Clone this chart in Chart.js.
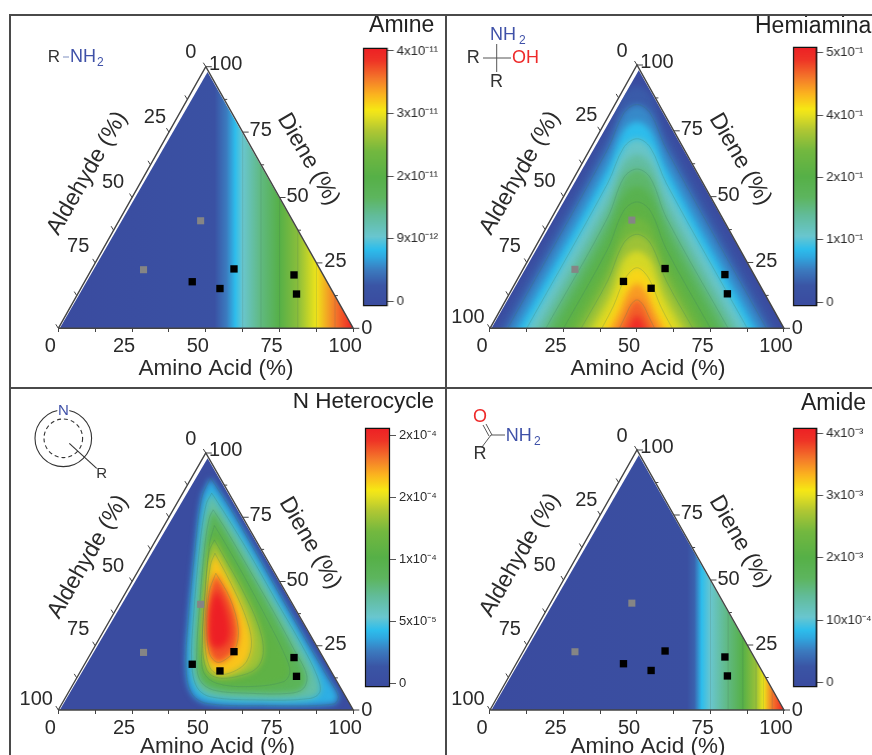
<!DOCTYPE html>
<html><head><meta charset="utf-8">
<script src="https://cdn.jsdelivr.net/npm/chart.js@4/dist/chart.umd.min.js"></script>
<style>
html,body{margin:0;padding:0;background:#fff;width:872px;height:755px;overflow:hidden}
canvas{position:absolute;display:block;filter:blur(0.4px)}
.ln{position:absolute;background:#4a4a4a}
</style></head><body>
<div class="ln" style="left:9px;top:14px;width:863px;height:2px"></div>
<div class="ln" style="left:9px;top:14px;width:2px;height:741px"></div>
<div class="ln" style="left:445px;top:14px;width:2px;height:741px"></div>
<div class="ln" style="left:9px;top:387px;width:863px;height:2px"></div>
<script>
// ---------- data ----------
const axisTicks = [0,12.5,25,37.5,50,62.5,75,87.5,100];
const labelledTicks = [0,25,50,75,100];
const triangleX = [0,100,50,0];
const triangleY = [0,0,100,0];
// sample compositions (percent)
const blackAminoAcid = [36.5,47.2,48.2,69.7,74.2];
const blackDiene     = [17.8,15.2,22.7,20.4,13.1];
const grayAminoAcid  = [27.7,17.7];
const grayDiene      = [41.1,22.4];
// colour-bar tick labels
const amineBarLabels  = ['0','9x10⁻¹²','2x10⁻¹¹','3x10⁻¹¹','4x10⁻¹¹'];
const hemiBarLabels   = ['0','1x10⁻¹','2x10⁻¹','4x10⁻¹','5x10⁻¹'];
const heteroBarLabels = ['0','5x10⁻⁵','1x10⁻⁴','2x10⁻⁴','2x10⁻⁴'];
const amideBarLabels  = ['0','10x10⁻⁴','2x10⁻³','3x10⁻³','4x10⁻³'];
// vertical iso-lines: position across the triangle and level (0-1 of the colour bar)
const amineIsoX = [0,53,57,60,62.5,68.7,75,81.2,87.5,93.8,100];
const amineIsoT = [0,.05,.14,.22,.27,.38,.5,.63,.75,.88,1];
const amineLines = [62.5,68.7,75,81.2,87.5,93.8];
const amideIsoX = [0,67,69.5,72,75,81,86,90.5,93,96,100];
const amideIsoT = [0,.03,.1,.22,.27,.38,.5,.65,.75,.88,1];
const amideLines = [75,81,86,90.5,93,96];
// Hemiaminal iso-contours, left half [x, y], level
const hemiLevels = [.09,.155,.22,.28,.34,.405,.47,.53,.59,.655,.72,.78,.845,.905,.97];
const hemiShown  = [0,1,0,1,0,1,0,1,0,1,0,1,0,1,0];
const hemi01 = [[3,0],[40,74],[45.5,88.7],[50,92]];
const hemi02 = [[6,0],[40,68],[45.5,81.7],[50,85]];
const hemi03 = [[9.5,0],[40,61],[45.5,75.2],[50,78.5]];
const hemi04 = [[12.5,0],[40,55],[45.5,68.7],[50,72]];
const hemi05 = [[16,0],[40,48],[45.5,62.7],[50,66]];
const hemi06 = [[19,0],[40,42],[45.5,57.2],[50,60.5]];
const hemi07 = [[22,0],[40,36],[45.5,50.7],[50,54]];
const hemi08 = [[25,0],[40,30],[45.5,44.7],[50,48]];
const hemi09 = [[28,0],[40,24],[45.5,38.7],[50,42]];
const hemi10 = [[31,0],[40,18],[45.5,32.4],[50,35.7]];
const hemi11 = [[34.5,0],[41,13],[45.5,26],[50,29.5]];
const hemi12 = [[38,0],[42,8.5],[46,19],[50,23]];
const hemi13 = [[41,0],[44,6.5],[47,14],[50,17]];
const hemi14 = [[44,0],[46,4.5],[48,9],[50,10.8]];
const hemi15 = [[47,0],[48.3,3],[50,5]];
// N-heterocycle iso-contours [x, y]
const heteroLevels = [.2,.33,.44,.53,.66,.8,.92,1];
const heteroA = [[51.6,90.3],[58.2,78.6],[66.1,63],[75.1,44.8],[84.2,26.6],[91.5,12.3],[94.9,5.2],[93.2,2.3],[70.6,1.7],[50.3,2.6],[45.2,6.5],[43.3,16.2],[44.1,35.7],[46.3,61.7],[48.6,82.5],[51.6,90.3]];
const heteroB = [[52,84.4],[57.1,75.3],[65,60.4],[74,42.2],[82.5,25.3],[87.6,13.6],[88.7,7.1],[85.3,4.5],[68.4,3.9],[51.4,5.2],[46.9,9.1],[45.2,18.8],[45.8,35.7],[48,64.3],[50.1,79.9],[52,84.4]];
const heteroC = [[52.5,77.9],[56.5,70.8],[63.8,56.5],[72.3,39.6],[79.7,24],[84.2,13.6],[83.1,8.4],[78.5,6.5],[65,6.5],[52.5,7.8],[48,11.7],[46.9,20.1],[48,42.2],[49.7,64.3],[51.2,74.7],[52.5,77.9]];
const heteroD = [[52.9,71.8],[55.9,66.2],[62.7,52.6],[70.6,35.7],[76.8,21.4],[78.5,14.9],[76.3,11],[63.8,9.1],[53.7,10.4],[49.4,14.3],[48.6,22.7],[49.7,43.5],[51.2,64.3],[52.9,71.8]];
const heteroE = [[52.9,66.2],[57.1,57.8],[62.7,46.1],[67.8,33.1],[69.5,22.7],[67.2,16.2],[60.5,13],[53.7,12.6],[50.3,15.6],[48.9,25.3],[49.7,46.1],[51.2,61.7],[52.9,66.2]];
const heteroF = [[53.1,61],[58.2,50],[63.3,37],[65.5,26.6],[63.8,18.8],[59.3,14.9],[54.2,13.9],[51.2,16.9],[49.7,26.6],[50.3,43.5],[51.6,56.5],[53.1,61]];
const heteroG = [[53.4,53.2],[58.2,43.5],[61,31.8],[59.9,23.4],[56.5,19.5],[53.7,18.6],[51.2,22.1],[50.3,33.1],[51.2,46.1],[53.4,53.2]];
const heteroH = [[53.7,46.8],[56.5,40.3],[58.2,31.2],[57.1,26],[53.7,24],[51.4,26.6],[51.1,35.7],[52,42.2],[53.7,46.8]];

// ---------- colour map of the bars ----------
const mapT = [0,.08,.14,.19,.22,.27,.35,.42,.5,.6,.68,.74,.76,.82,.88,.95,1];
const mapC = ['#3a4b9f','#3a55a5','#3b7bbf','#2fa8e0','#2dbdec','#69c6cf','#62bc9a','#5db55e','#56b047','#73b83f','#b0c733','#e8e11f','#f6e714','#fbb21f','#f4792a','#ee3426','#ed1f25'];
function hex(c){return [1,3,5].map(i=>parseInt(c.substr(i,2),16));}
function colorAt(t){
  t=Math.max(0,Math.min(1,t));
  let i=0; while(i<mapT.length-2 && t>mapT[i+1]) i++;
  const f=(t-mapT[i])/(mapT[i+1]-mapT[i]), a=hex(mapC[i]), b=hex(mapC[i+1]);
  return 'rgb('+a.map((v,k)=>Math.round(v+(b[k]-v)*f)).join(',')+')';
}
function xy(p){return {x:p[0],y:p[1]};}
function mirrored(half){
  const first=half[0];
  const pts=[[first[0]-5,-10]].concat(half);
  const back=half.slice(0,-1).reverse().map(p=>[100-p[0],p[1]]);
  return pts.concat(back,[[100-first[0]+5,-10]]).map(xy);
}
const FONT='"Liberation Sans", Arial, sans-serif';
const TXT='#2a2a2a';
const BIG=[[-30,-30],[130,-30],[130,130],[-30,130],[-30,-30]].map(xy);

// ---------- panel layout ----------
const panels=[
 {name:'Amine',box:[11,16,434,371],L:58.3,R:353.3,B:328.3,T:66.7,
  iso:[amineIsoX,amineIsoT],lines:amineLines,bar:[363.3,46.7,25,260,-0.08,4.05],barLabels:amineBarLabels,
  title:['Amine',401.7,26,23,'center'],aldLabels:[0,25,50,75],ax:216,ay:369,aldC:[87.3,173.3],dieC:[308.3,159.3]},
 {name:'Hemiaminal',box:[447,16,425,371],L:490,R:784,B:328.3,T:65,
  bands:[hemi01,hemi02,hemi03,hemi04,hemi05,hemi06,hemi07,hemi08,hemi09,hemi10,hemi11,hemi12,hemi13,hemi14,hemi15].map(mirrored),
  levels:hemiLevels,shown:hemiShown,blur:3,bar:[793.3,46,24.4,261,-0.064,4.096],barLabels:hemiBarLabels,
  title:['Hemiaminal',755,27,23,'left'],aldLabels:[0,25,50,75,100],ax:648,ay:369,aldC:[520,173],dieC:[740,159.3]},
 {name:'N Heterocycle',box:[11,389,434,366],L:58.3,R:353.3,B:710,T:453,
  bands:[heteroA,heteroB,heteroC,heteroD,heteroE,heteroF,heteroG,heteroH].map(a=>a.map(xy)),
  levels:heteroLevels,shown:[1,1,1,1,1,1,1,0],blur:3,bar:[365,427,25,261,-0.064,4.13],barLabels:heteroBarLabels,
  title:['N Heterocycle',292.7,402,22.5,'left'],aldLabels:[0,25,50,75,100],ax:217.5,ay:747,aldC:[88,556.7],dieC:[310,543]},
 {name:'Amide',box:[447,389,425,366],L:490,R:784,B:710,T:450,
  iso:[amideIsoX,amideIsoT],lines:amideLines,bar:[793.3,427,24.4,261,-0.08,4.09],barLabels:amideBarLabels,
  title:['Amide',833.5,404,23,'center'],aldLabels:[0,25,50,75,100],ax:648,ay:747,aldC:[520,555],dieC:[740,541.7]}
];
const aldOff={0:[-15,-14],25:[-14,-15],50:[-19,-15],75:[-17,-16],100:[-22,-11]};
const dieOff={0:[13.4,0],25:[19,-1],50:[18,-1],75:[18,-1.5],100:[20,-2.7]};

function text(ctx,s,x,y,size,color,align,rot){
  ctx.save();ctx.translate(x,y);if(rot)ctx.rotate(rot);
  ctx.font=size+'px '+FONT;ctx.fillStyle=color||TXT;ctx.textAlign=align||'center';ctx.textBaseline='middle';
  ctx.fillText(s,0,0);ctx.restore();
}
function seg(ctx,x1,y1,x2,y2,c,w){ctx.strokeStyle=c||'#444';ctx.lineWidth=w||1;ctx.beginPath();ctx.moveTo(x1,y1);ctx.lineTo(x2,y2);ctx.stroke();}
const BLUE='#3f51a8',RED='#ee2a2a';
const structures=[
 (c,o)=>{text(c,'R',47.7-o[0],57-o[1],17,'#333','left');seg(c,63-o[0],57-o[1],69-o[0],57-o[1],'#7f8fc0',1);
   text(c,'NH',70-o[0],57-o[1],18,BLUE,'left');text(c,'2',97-o[0],63-o[1],12,BLUE,'left');},
 (c,o)=>{text(c,'NH',490-o[0],35-o[1],18,BLUE,'left');text(c,'2',519-o[0],41-o[1],12,BLUE,'left');
   text(c,'R',466.7-o[0],58-o[1],18,'#333','left');seg(c,483-o[0],58-o[1],511-o[0],58-o[1],'#555');seg(c,496.7-o[0],44-o[1],496.7-o[0],72-o[1],'#555');
   text(c,'OH',512-o[0],58-o[1],18,RED,'left');text(c,'R',490-o[0],82-o[1],18,'#333','left');},
 (c,o)=>{const X=63.3-o[0],Y=438.3-o[1];c.strokeStyle='#333';c.lineWidth=1.1;c.beginPath();c.arc(X,Y,28.3,0,7);c.stroke();
   c.setLineDash([4,3]);c.beginPath();c.arc(X,Y,19.3,0,7);c.stroke();c.setLineDash([]);
   seg(c,69.3-o[0],443.3-o[1],96.7-o[0],468.3-o[1],'#333',1.1);
   c.fillStyle='#fff';c.fillRect(X-6,405-o[1],12,12);
   text(c,'N',X,411-o[1],15,BLUE);text(c,'R',101.7-o[0],473.5-o[1],15,'#333');},
 (c,o)=>{text(c,'O',480-o[0],417.5-o[1],18,RED);
   seg(c,486-o[0],424-o[1],492-o[0],435-o[1],'#555');seg(c,483-o[0],425-o[1],489-o[0],436-o[1],'#555');
   seg(c,491-o[0],435-o[1],505-o[0],435-o[1],'#555');seg(c,491-o[0],435-o[1],482-o[0],447-o[1],'#555');
   text(c,'NH',505.7-o[0],436-o[1],18,BLUE,'left');text(c,'2',534-o[0],442-o[1],12,BLUE,'left');text(c,'R',480-o[0],454.5-o[1],18,'#333');}
];

function mkCanvas(x,y,w,h){const c=document.createElement('canvas');c.width=w;c.height=h;c.style.left=x+'px';c.style.top=y+'px';c.style.width=w+'px';c.style.height=h+'px';document.body.appendChild(c);return c;}

panels.forEach((p,pi)=>{
  const [bx,by,bw,bh]=p.box;
  const ux=(p.R-p.L)/100, uy=(p.B-p.T)/100;
  const ds=[];
  let stage={blurEnd:null,clipEnd:null};
  const line=(o)=>Object.assign({showLine:true,pointRadius:0,borderWidth:0,fill:false},o);
  if(p.iso){
    ds.push(line({data:BIG,fill:'shape',backgroundColor:(c)=>{
      const g=c.chart.ctx.createLinearGradient(p.L-bx,0,p.R-bx,0);
      p.iso[0].forEach((v,i)=>g.addColorStop(v/100,colorAt(p.iso[1][i])));return g;}}));
    stage.blurEnd=0;
    p.lines.forEach(v=>ds.push(line({data:[{x:v,y:-5},{x:v,y:105}],borderWidth:.8,borderColor:'rgba(70,110,90,.25)'})));
  }else{
    ds.push(line({data:BIG,fill:'shape',backgroundColor:colorAt(.01)}));
    p.bands.forEach((b,i)=>ds.push(line({data:b,fill:'shape',tension:.35,backgroundColor:colorAt(p.levels[i])})));
    stage.blurEnd=ds.length-1;
    p.bands.forEach((b,i)=>{if(p.shown[i])ds.push(line({data:b,tension:.35,borderWidth:.8,borderColor:'rgba(60,120,100,.3)'}));});
  }
  stage.clipEnd=ds.length-1;
  ds.push(line({data:triangleX.map((v,i)=>({x:v,y:triangleY[i]})),borderWidth:1.4,borderColor:'#444'}));
  ds.push({data:blackAminoAcid.map((a,i)=>({x:a+blackDiene[i]/2,y:blackDiene[i]})),pointStyle:'rect',pointRadius:5.2,pointBackgroundColor:'#000',pointBorderWidth:0});
  ds.push({data:grayAminoAcid.map((a,i)=>({x:a+grayDiene[i]/2,y:grayDiene[i]})),pointStyle:'rect',pointRadius:5,pointBackgroundColor:'#858585',pointBorderWidth:0});
  ds.forEach((d,i)=>{d.order=ds.length-i;});

  const ternary={id:'ternary',
    beforeDatasetsDraw(chart){
      const c=chart.ctx,x=chart.scales.x,y=chart.scales.y;
      c.save();c.beginPath();
      c.moveTo(x.getPixelForValue(.5),y.getPixelForValue(0));
      c.lineTo(x.getPixelForValue(50.6),y.getPixelForValue(98));
      c.lineTo(x.getPixelForValue(100),y.getPixelForValue(0));c.closePath();c.clip();
      if(p.blur)c.filter='blur('+p.blur+'px)';
    },
    afterDatasetDraw(chart,args){
      const c=chart.ctx;
      if(args.index===stage.blurEnd)c.filter='none';
      if(args.index===stage.clipEnd)c.restore();
    },
    afterDraw(chart){
      const c=chart.ctx,x=chart.scales.x,y=chart.scales.y,ox=bx,oy=by;
      c.save();
      axisTicks.forEach(v=>{
        const dL=100-v, lx=x.getPixelForValue(dL/2), ly=y.getPixelForValue(dL);
        seg(c,lx,ly,lx-2.5,ly-4,'#444',1);
        const rx=x.getPixelForValue(100-v/2), ry=y.getPixelForValue(v), len=labelledTicks.includes(v)?6:3;
        seg(c,rx,ry,rx+len,ry,'#444',1);
      });
      p.aldLabels.forEach(v=>{
        const dL=100-v,o=aldOff[v];
        text(c,String(v),x.getPixelForValue(dL/2)+o[0],y.getPixelForValue(dL)+o[1],20);
      });
      labelledTicks.forEach(v=>{
        const o=dieOff[v];
        text(c,String(v),x.getPixelForValue(100-v/2)+o[0],y.getPixelForValue(v)+o[1],20);
      });
      text(c,'Amino Acid (%)',p.ax-ox,p.ay-oy,22.5);
      text(c,'Aldehyde (%)',p.aldC[0]-ox,p.aldC[1]-oy,23,TXT,'center',-Math.PI/3);
      text(c,'Diene (%)',p.dieC[0]-ox,p.dieC[1]-oy,23,TXT,'center',Math.PI/3);
      const t=p.title;text(c,t[0],t[1]-ox,t[2]-oy,t[3],'#222',t[4]);
      structures[pi](c,[ox,oy]);
      c.restore();
    }
  };

  new Chart(mkCanvas(bx,by,bw,bh),{type:'scatter',
    data:{datasets:ds},
    plugins:[ternary],
    options:{responsive:false,animation:false,layout:{padding:0,autoPadding:false},
      plugins:{legend:{display:false},tooltip:{enabled:false}},
      scales:{
        x:{type:'linear',min:(bx-p.L)/ux,max:(bx+bw-p.L)/ux,position:{y:0},
          afterBuildTicks:s=>{s.ticks=axisTicks.map(v=>({value:v}));},
          border:{display:false},grid:{drawOnChartArea:false,tickLength:4,tickColor:'#444',lineWidth:1},
          ticks:{autoSkip:false,maxRotation:0,minRotation:0,padding:2,labelOffset:-8,color:TXT,font:{family:FONT,size:20},
            callback:v=>labelledTicks.includes(v)?String(v):''}},
        y:{type:'linear',display:false,min:-(by+bh-p.B)/uy,max:(p.B-by)/uy}
      }}
  });

  // colour bar
  const [cx,cy,cw,ch,vmin,vmax]=p.bar;
  const padY=10,padL=2,cvW=Math.min(872,bx+bw)-(cx-padL);
  new Chart(mkCanvas(cx-padL,cy-padY,cvW,ch+2*padY),{type:'bar',
    data:{labels:[''],datasets:[{data:[[vmin,vmax]],barPercentage:1,categoryPercentage:1,borderWidth:1.5,borderColor:'#111',borderSkipped:false,clip:4,
      backgroundColor:(c)=>{const a=c.chart.chartArea;if(!a)return '#888';
        const g=c.chart.ctx.createLinearGradient(0,a.bottom,0,a.top);
        mapT.forEach((t,i)=>g.addColorStop(t,mapC[i]));return g;}}]},
    options:{responsive:false,animation:false,layout:{padding:{top:padY,bottom:padY,left:padL,right:0},autoPadding:false},
      plugins:{legend:{display:false},tooltip:{enabled:false}},
      scales:{
        x:{display:false},
        y:{position:'right',min:vmin,max:vmax,
          afterBuildTicks:s=>{s.ticks=[0,1,2,3,4].map(v=>({value:v}));},
          afterFit:s=>{s.width=cvW-padL-cw;},
          border:{display:false},grid:{drawOnChartArea:false,tickLength:6,tickColor:'#555'},
          ticks:{padding:3,color:TXT,font:{family:FONT,size:13},callback:(v)=>p.barLabels[v]}}
      }}
  });
});
</script>
</body></html>
